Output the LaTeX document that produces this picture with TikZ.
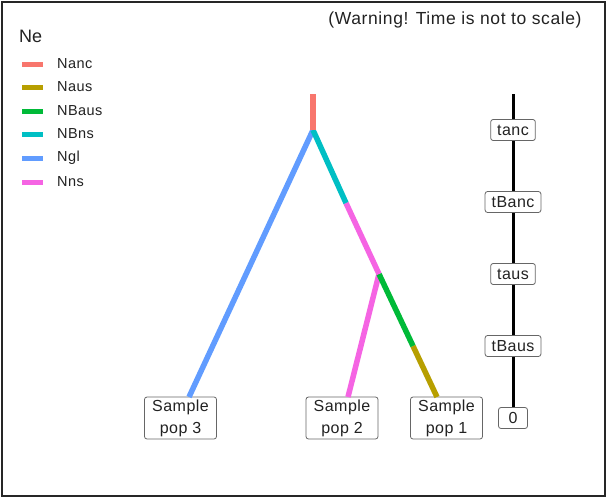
\documentclass[tikz,border=0pt]{standalone}
\usepackage{fontspec}
\setmainfont{Liberation Sans}
\newfontfamily\spfont[LetterSpace=3]{Liberation Sans}
\newfontfamily\wfont[LetterSpace=3.5]{Liberation Sans}
\definecolor{cNanc}{HTML}{F8766D}
\definecolor{cNaus}{HTML}{B79F00}
\definecolor{cNBaus}{HTML}{00BA38}
\definecolor{cNBns}{HTML}{00BFC4}
\definecolor{cNgl}{HTML}{619CFF}
\definecolor{cNns}{HTML}{F564E3}
\definecolor{txt}{HTML}{222222}
\tikzset{
  branch/.style={line width=5.5pt},
  keyline/.style={line width=5pt},
  legtext/.style={anchor=west, inner sep=0pt, text=txt, font=\spfont\fontsize{14.5}{16}\selectfont},
  tbox/.style={draw=gray!80!black, rounded corners=2.5pt, line width=0.8pt, fill=white, text=txt,
    inner xsep=6.5pt, inner ysep=0pt, minimum height=21pt, minimum width=29pt, font=\spfont\fontsize{16}{18}\selectfont},
  sbox/.style={draw=gray!80!black, rounded corners=2.5pt, line width=0.8pt, fill=white, text=txt,
    minimum width=72pt, minimum height=42pt, align=center, inner sep=0pt,
    font=\spfont\fontsize{16}{22}\selectfont},
}
\begin{document}
\begin{tikzpicture}[x=1pt,y=-1pt]
\useasboundingbox (0,0) rectangle (607,498);
\fill[white] (0,0) rectangle (607,498);
% frame
\draw[line width=2pt, black!85] (1.5,1.5) rectangle (605,495.5);
% warning
\node[text=txt, font=\wfont\fontsize{17.5}{19}\selectfont, inner sep=0pt] (warn) at (455,20) {(Warning! Time is not to scale)};
% legend
\node[anchor=west, inner sep=0pt, text=txt, font=\fontsize{18}{20}\selectfont] (ne) at (19,36) {Ne};
\foreach \y/\c/\t [count=\i] in {64/cNanc/Nanc, 87/cNaus/Naus, 111/cNBaus/NBaus, 134/cNBns/NBns, 158/cNgl/Ngl, 182/cNns/Nns}{
  \coordinate (ka\i) at (22,\y);
  \coordinate (kb\i) at (43,\y);
  \draw[keyline, \c] (ka\i) -- (kb\i);
  \node[legtext] (lt\i) at (57,\y) {\t};
}
% tree coordinates
\coordinate (top) at (313,94);
\coordinate (root) at (313,130);
\coordinate (jb) at (346,203);
\coordinate (ja) at (379,274);
\coordinate (jc) at (413,346);
\coordinate (e3) at (189,397);
\coordinate (e2) at (348,397);
\coordinate (e1) at (437,397);
% sample boxes
\node[sbox] (p3) at (180.5,418) {Sample\\pop 3};
\node[sbox] (p2) at (342,418) {Sample\\pop 2};
\node[sbox] (p1) at (446.5,418) {Sample\\pop 1};
% branches
\draw[branch, cNgl] (root) -- (e3);
\draw[branch, cNns] (ja) -- (e2);
\draw[branch, cNaus] (jc) -- (e1);
\draw[branch, cNBaus] (ja) -- (jc);
\draw[branch, cNns] (jb) -- (ja);
\draw[branch, cNBns] (root) -- (jb);
\draw[branch, cNanc] (top) -- (root);
% timeline
\coordinate (ttop) at (513,94);
\node[tbox] (t0) at (513,418) {0};
\draw[line width=3pt, black] (ttop) -- (t0);
\node[tbox] (tanc) at (513,130) {tanc};
\node[tbox] (tBanc) at (513,202) {tBanc};
\node[tbox] (taus) at (513,274) {taus};
\node[tbox] (tBaus) at (513,346) {tBaus};
\end{tikzpicture}
\end{document}
